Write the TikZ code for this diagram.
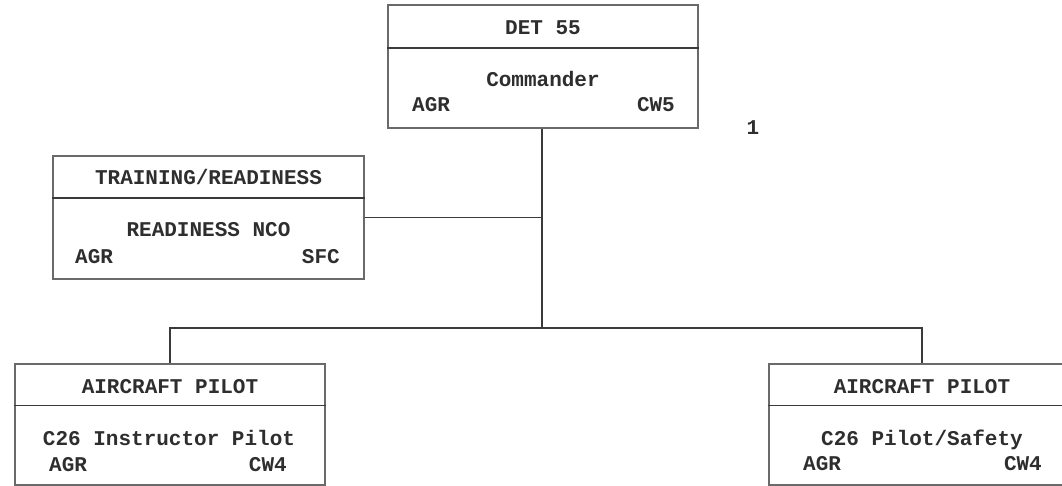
\documentclass[tikz,border=0pt]{standalone}
\usepackage{fontspec}
\newfontfamily\cour{Liberation Mono}
\definecolor{boxgray}{HTML}{6A6A6A}
\definecolor{linegray}{HTML}{3A3A3A}
\definecolor{txt}{HTML}{2E2E2E}
\begin{document}
\begin{tikzpicture}[x=1pt,y=1pt,
  box/.style={draw=boxgray, line width=1.4pt, minimum width=310pt, minimum height=123pt, inner sep=0pt},
  divider/.style={draw=linegray, line width=1.4pt},
  lbl/.style={font=\cour\bfseries\fontsize{21}{25}\selectfont, text=txt, inner sep=0pt, anchor=base},
  lblw/.style={lbl, anchor=base west},
  lble/.style={lbl, anchor=base east},
  conn/.style={draw=linegray, line width=1.8pt}]
\clip (0,0) rectangle (1062,-486);
\fill[white] (0,0) rectangle (1062,-486);
% boxes
\node[box] (det) at (543,-66.5) {};
\node[box, minimum width=311pt] (train) at (208.5,-217.5) {};
\node[box, minimum height=121pt] (pilotL) at (170,-424.5) {};
\node[box, minimum width=306pt, minimum height=121pt] (pilotR) at (922,-424.5) {};
% dividers
\draw[divider] (det.west |- 0,-48) -- (det.east |- 0,-48);
\draw[divider] (train.west |- 0,-198) -- (train.east |- 0,-198);
\draw[divider] (pilotL.west |- 0,-405.5) -- (pilotL.east |- 0,-405.5);
\draw[divider] (pilotR.west |- 0,-405.5) -- (pilotR.east |- 0,-405.5);
% texts: top
\node[lbl] (detH) at (543,-35) {DET 55};
\node[lbl] (detT) at (543,-87) {Commander};
\node[lblw] (detA) at (412,-112) {AGR};
\node[lble] (detR) at (675,-112) {CW5};
% training
\node[lbl] (trH) at (208.5,-185) {TRAINING/READINESS};
\node[lbl] (trT) at (208.5,-237) {READINESS NCO};
\node[lblw] (trA) at (75,-263) {AGR};
\node[lble] (trR) at (340,-263) {SFC};
% pilot left
\node[lbl] (plH) at (170,-393) {AIRCRAFT PILOT};
\node[lbl] (plT) at (169,-445) {C26 Instructor Pilot};
\node[lblw] (plA) at (49,-471) {AGR};
\node[lble] (plR) at (287,-471) {CW4};
% pilot right
\node[lbl] (prH) at (922,-393) {AIRCRAFT PILOT};
\node[lbl] (prT) at (922,-445) {C26 Pilot/Safety};
\node[lblw] (prA) at (803,-470) {AGR};
\node[lble] (prR) at (1042,-470) {CW4};
% note
\node[lbl] (one) at (753,-135) {1};
% connectors
\coordinate (bus) at (542,-328);
\draw[conn] (det.south -| bus) -- (bus);
\draw[conn] (train.east) -- (train.east -| bus);
\draw[conn] (pilotL.north) |- (bus) -| (pilotR.north);
\end{tikzpicture}
\end{document}
